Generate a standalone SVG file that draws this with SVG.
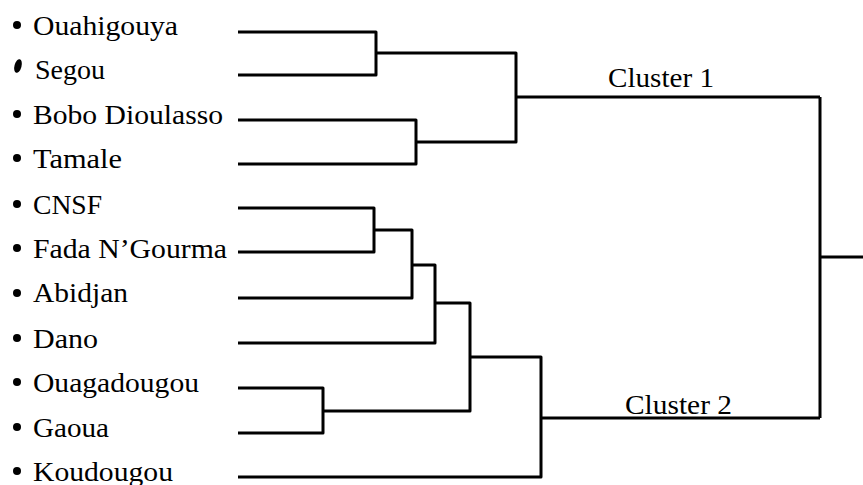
<svg xmlns="http://www.w3.org/2000/svg" width="863" height="485" viewBox="0 0 863 485">
<style>
text{font-family:'Times New Roman','Liberation Serif','DejaVu Serif',serif;font-size:28px;fill:#000}
.dot{fill:#000}
.con{fill:none;stroke:#000;stroke-width:3;stroke-linejoin:round;stroke-linecap:butt}
</style>
<rect width="863" height="485" fill="#fff"/>
<g id="connectors" class="con">
<path d="M238,32 H376 V75 H238"/>
<path d="M238,120 H416 V164 H238"/>
<path d="M376,53 H516 V142 H416"/>
<path d="M516,97 H820"/>
<path d="M238,208 H374 V252 H238"/>
<path d="M374,230 H412 V298 H238"/>
<path d="M412,265 H435 V343 H238"/>
<path d="M238,388 H323 V433 H238"/>
<path d="M435,303 H470 V411 H323"/>
<path d="M470,357 H541 V477 H238"/>
<path d="M541,418 H820"/>
<path d="M820,97 V418"/>
<path d="M820,257 H863"/>
</g>
<g id="n-ouahigouya"><circle class="dot" cx="17" cy="25" r="4"/><text x="33" y="35" textLength="145" lengthAdjust="spacingAndGlyphs">Ouahigouya</text></g>
<g id="n-segou"><ellipse class="dot" cx="18" cy="66" rx="3.5" ry="7" transform="rotate(15 18 66)"/><text x="35" y="79" textLength="70" lengthAdjust="spacingAndGlyphs">Segou</text></g>
<g id="n-bobo"><circle class="dot" cx="17" cy="114" r="4"/><text x="33" y="124" textLength="190" lengthAdjust="spacingAndGlyphs">Bobo Dioulasso</text></g>
<g id="n-tamale"><circle class="dot" cx="17" cy="158" r="4"/><text x="33" y="168" textLength="89" lengthAdjust="spacingAndGlyphs">Tamale</text></g>
<g id="n-cnsf"><circle class="dot" cx="17" cy="204" r="4"/><text x="33" y="214" textLength="69" lengthAdjust="spacingAndGlyphs">CNSF</text></g>
<g id="n-fada"><circle class="dot" cx="17" cy="248" r="4"/><text x="33" y="258" textLength="194" lengthAdjust="spacingAndGlyphs">Fada N’Gourma</text></g>
<g id="n-abidjan"><circle class="dot" cx="17" cy="293" r="4"/><text x="33" y="302" textLength="95" lengthAdjust="spacingAndGlyphs">Abidjan</text></g>
<g id="n-dano"><circle class="dot" cx="17" cy="338" r="4"/><text x="33" y="348" textLength="65" lengthAdjust="spacingAndGlyphs">Dano</text></g>
<g id="n-ouagadougou"><circle class="dot" cx="17" cy="382" r="4"/><text x="33" y="392" textLength="166" lengthAdjust="spacingAndGlyphs">Ouagadougou</text></g>
<g id="n-gaoua"><circle class="dot" cx="17" cy="427" r="4"/><text x="33" y="437" textLength="76" lengthAdjust="spacingAndGlyphs">Gaoua</text></g>
<g id="n-koudougou"><circle class="dot" cx="17" cy="471" r="4"/><text x="33" y="481" textLength="140" lengthAdjust="spacingAndGlyphs">Koudougou</text></g>
<g id="cluster1"><text x="608" y="87" textLength="106" lengthAdjust="spacingAndGlyphs">Cluster 1</text></g>
<g id="cluster2"><text x="625" y="414" textLength="107" lengthAdjust="spacingAndGlyphs">Cluster 2</text></g>
</svg>
